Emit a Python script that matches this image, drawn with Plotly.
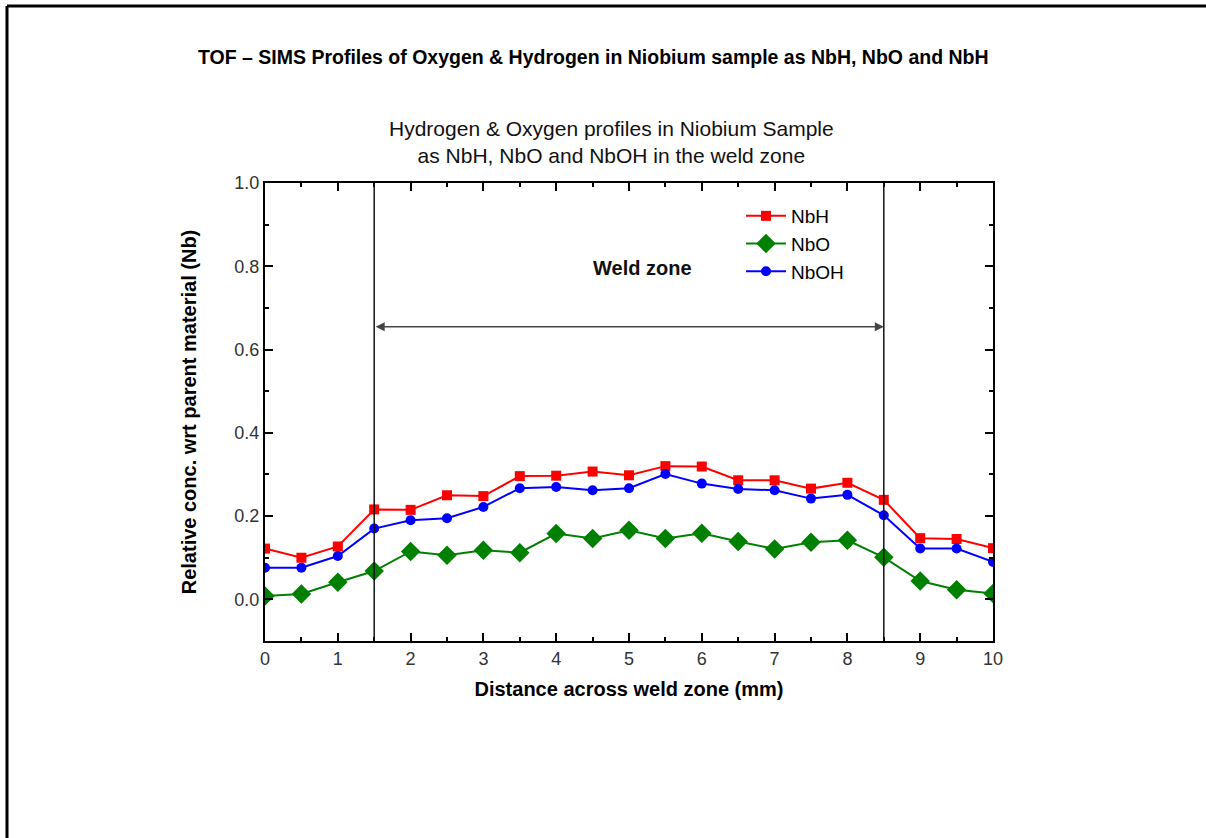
import plotly.graph_objects as go

distance_mm = [0, 0.5, 1, 1.5, 2, 2.5, 3, 3.5, 4, 4.5, 5, 5.5, 6, 6.5, 7, 7.5, 8, 8.5, 9, 9.5, 10]
nbh = [0.122, 0.100, 0.127, 0.216, 0.215, 0.250, 0.248, 0.296, 0.297, 0.307, 0.298,
       0.320, 0.319, 0.286, 0.286, 0.266, 0.280, 0.239, 0.147, 0.145, 0.123]
nbo = [0.008, 0.013, 0.041, 0.068, 0.115, 0.106, 0.118, 0.112, 0.158, 0.146, 0.166,
       0.146, 0.159, 0.139, 0.121, 0.137, 0.142, 0.101, 0.044, 0.023, 0.014]
nboh = [0.076, 0.076, 0.104, 0.170, 0.190, 0.195, 0.222, 0.267, 0.270, 0.262, 0.267,
        0.301, 0.278, 0.265, 0.262, 0.242, 0.251, 0.202, 0.122, 0.122, 0.090]
weld_start, weld_end = 1.5, 8.5
arrow_level = 0.655
x_ticks = list(range(0, 11))
y_ticks = [0.0, 0.2, 0.4, 0.6, 0.8, 1.0]

FONT = "Liberation Sans, Arial, sans-serif"

fig = go.Figure()
fig.add_trace(go.Scatter(x=distance_mm, y=nbh, mode="lines+markers", name="NbH",
                         line=dict(color="#ff0000", width=2),
                         marker=dict(symbol="square", size=10, color="#ff0000")))
fig.add_trace(go.Scatter(x=distance_mm, y=nbo, mode="lines+markers", name="NbO",
                         line=dict(color="#008000", width=2),
                         marker=dict(symbol="diamond", size=15, color="#008000")))
fig.add_trace(go.Scatter(x=distance_mm, y=nboh, mode="lines+markers", name="NbOH",
                         line=dict(color="#0000ff", width=2),
                         marker=dict(symbol="circle", size=10, color="#0000ff")))

# weld zone boundary lines
for xv in (weld_start, weld_end):
    fig.add_shape(type="line", xref="x", yref="y", x0=xv, x1=xv, y0=-0.1, y1=1.0,
                  line=dict(color="#111111", width=1.5))

# double-headed arrow
fig.add_annotation(x=weld_end, y=arrow_level, ax=weld_start, ay=arrow_level,
                   xref="x", yref="y", axref="x", ayref="y", text="",
                   showarrow=True, arrowhead=2, arrowside="end+start",
                   arrowsize=1.2, arrowwidth=1.5, arrowcolor="#444444")

fig.add_annotation(x=5.18, y=0.797, xref="x", yref="y", text="<b>Weld zone</b>",
                   showarrow=False, xanchor="center", yanchor="middle",
                   font=dict(family=FONT, size=20, color="#111111"))

# chart title (two lines)
fig.add_annotation(x=(611 - 265) / 728, y=(641 - 142) / 458, xref="paper", yref="paper",
                   text="Hydrogen &amp; Oxygen profiles in Niobium Sample<br>as NbH, NbO and NbOH in the weld zone",
                   showarrow=False, align="center", xanchor="center", yanchor="middle",
                   font=dict(family=FONT, size=21, color="#111111"))

# slide title
fig.add_annotation(x=(593 - 265) / 728, y=(641 - 57) / 458, xref="paper", yref="paper",
                   text="<b>TOF – SIMS Profiles of Oxygen &amp; Hydrogen in Niobium sample as NbH, NbO and NbH</b>",
                   showarrow=False, xanchor="center", yanchor="middle",
                   font=dict(family=FONT, size=19.5, color="#000000"))

# outer slide frame (top and left edges)
fig.add_shape(type="line", xref="paper", yref="paper",
              x0=(7 - 265) / 728, x1=(1210 - 265) / 728, y0=(641 - 6) / 458, y1=(641 - 6) / 458,
              line=dict(color="#000000", width=3))
fig.add_shape(type="line", xref="paper", yref="paper",
              x0=(7 - 265) / 728, x1=(7 - 265) / 728, y0=(641 - 6) / 458, y1=(641 - 840) / 458,
              line=dict(color="#000000", width=3))

axis_common = dict(showline=True, linecolor="#000000", linewidth=2, mirror="ticks",
                   ticks="inside", ticklen=8, tickwidth=2, tickcolor="#000000",
                   showgrid=False, zeroline=False,
                   tickfont=dict(family=FONT, size=18, color="#333333"))

fig.update_xaxes(range=[0, 10], tickvals=x_ticks, **axis_common,
                 minor=dict(ticks="inside", ticklen=4, tickwidth=2, tickcolor="#000000", dtick=0.5),
                 title=dict(text="<b>Distance across weld zone (mm)</b>",
                            font=dict(family=FONT, size=20, color="#000000"), standoff=14))
fig.update_yaxes(range=[-0.1, 1.0], tickvals=y_ticks, tickformat=".1f", **axis_common,
                 minor=dict(ticks="inside", ticklen=4, tickwidth=2, tickcolor="#000000", dtick=0.1,
                            tick0=0),
                 title=dict(text="<b>Relative conc. wrt parent material (Nb)</b>",
                            font=dict(family=FONT, size=20, color="#000000"), standoff=32))

fig.update_layout(
    width=1206, height=838,
    margin=dict(l=265, r=213, t=183, b=197, autoexpand=False),
    paper_bgcolor="#ffffff", plot_bgcolor="#ffffff",
    showlegend=True,
    legend=dict(x=(741 - 265) / 728, y=(641 - 197) / 458, xanchor="left", yanchor="top",
                bgcolor="rgba(0,0,0,0)", font=dict(family=FONT, size=19, color="#000000"),
                itemwidth=40, tracegroupgap=0),
    font=dict(family=FONT),
)

fig.write_html("out.html")
